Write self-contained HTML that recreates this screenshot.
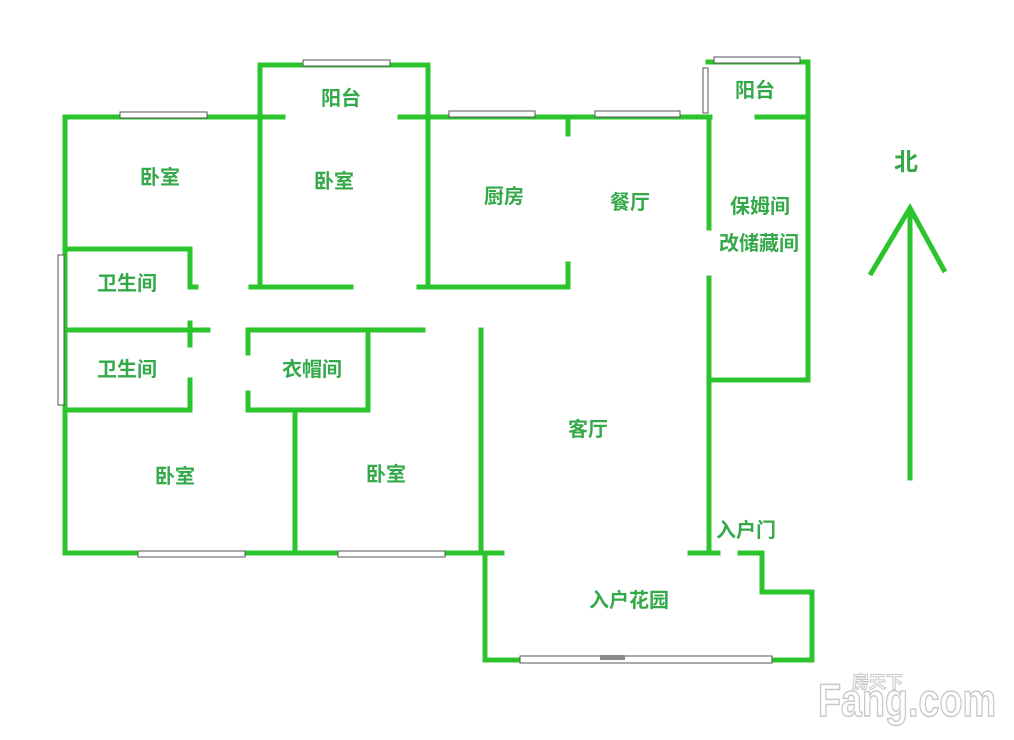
<!DOCTYPE html>
<html><head><meta charset="utf-8"><style>
html,body{margin:0;padding:0;background:#fff;}
svg{display:block;}
.w{stroke:#2cc42c;stroke-width:5;fill:none;stroke-linecap:square;}
.win{fill:#fff;stroke:#555;stroke-width:1;}
.t{font-family:"Liberation Sans","Noto Sans CJK SC",sans-serif;font-weight:bold;font-size:20px;fill:#34a94a;text-anchor:middle;}
</style></head><body>
<svg width="1014" height="740" viewBox="0 0 1014 740" xmlns="http://www.w3.org/2000/svg">
<g class="w">
<path d="M65 117V553"/>
<path d="M65 117H283"/>
<path d="M260 65V287M260 65H428V287M400 117H428"/>
<path d="M428 117H710"/>
<path d="M568 117V134"/>
<path d="M251 287H351"/>
<path d="M419 287H568V264"/>
<path d="M708 62H808V380"/>
<path d="M757 117H808"/>
<path d="M709 117V228"/>
<path d="M709 278V553"/>
<path d="M709 380H808"/>
<path d="M65 249H190V287H196"/>
<path d="M65 330H208M190 323V345"/>
<path d="M190 380V410H65"/>
<path d="M248 353V330H423"/>
<path d="M248 393V410H368V330"/>
<path d="M295 410V553"/>
<path d="M481 330V553"/>
<path d="M65 553H485"/>
<path d="M480 553H502"/>
<path d="M485 553V660H525"/>
<path d="M770 660H812V592H762V553H740"/>
<path d="M690 553H718"/>
<path d="M910 478V212" />
<path d="M870 275L910 208L945 272" stroke-linecap="butt" stroke-linejoin="miter"/>
</g>
<rect class="win" x="120" y="112" width="87" height="6"/>
<rect class="win" x="303" y="60" width="87" height="6"/>
<rect class="win" x="449" y="111" width="86" height="6"/>
<rect class="win" x="595" y="111" width="85" height="6"/>
<rect class="win" x="714" y="57" width="86" height="6"/>
<rect class="win" x="138" y="551" width="107" height="6"/>
<rect class="win" x="338" y="551" width="107" height="6"/>
<rect class="win" x="520" y="656" width="252" height="7"/>
<rect class="win" x="58" y="255" width="6" height="150"/>
<rect class="win" x="703" y="68" width="5" height="45"/>
<rect x="600" y="655" width="25" height="5" fill="#888"/>
<text class="t" x="341" y="105">阳台</text>
<text class="t" x="160" y="184">卧室</text>
<text class="t" x="334" y="188">卧室</text>
<text class="t" x="504" y="203">厨房</text>
<text class="t" x="630" y="209">餐厅</text>
<text class="t" x="755" y="97">阳台</text>
<text class="t" x="760" y="213">保姆间</text>
<text class="t" x="759" y="250">改储藏间</text>
<text class="t" x="127" y="290">卫生间</text>
<text class="t" x="127" y="376">卫生间</text>
<text class="t" x="312" y="376">衣帽间</text>
<text class="t" x="175" y="483">卧室</text>
<text class="t" x="386" y="481">卧室</text>
<text class="t" x="588" y="436">客厅</text>
<text class="t" x="746" y="537">入户门</text>
<text class="t" x="629" y="607">入户花园</text>
<text class="t" x="906" y="170" style="font-size:24px">北</text>
<text x="818" y="716" textLength="178" lengthAdjust="spacingAndGlyphs" style="font-family:'Liberation Sans',sans-serif;font-weight:bold;font-size:46px;fill:#fff;stroke:#c8c8c8;stroke-width:1.5;">Fang.com</text>
<text x="852" y="688" style="font-family:'Noto Sans CJK SC',sans-serif;font-weight:bold;font-size:17px;fill:#fff;stroke:#c8c8c8;stroke-width:1;">房天下</text>
</svg>
</body></html>
